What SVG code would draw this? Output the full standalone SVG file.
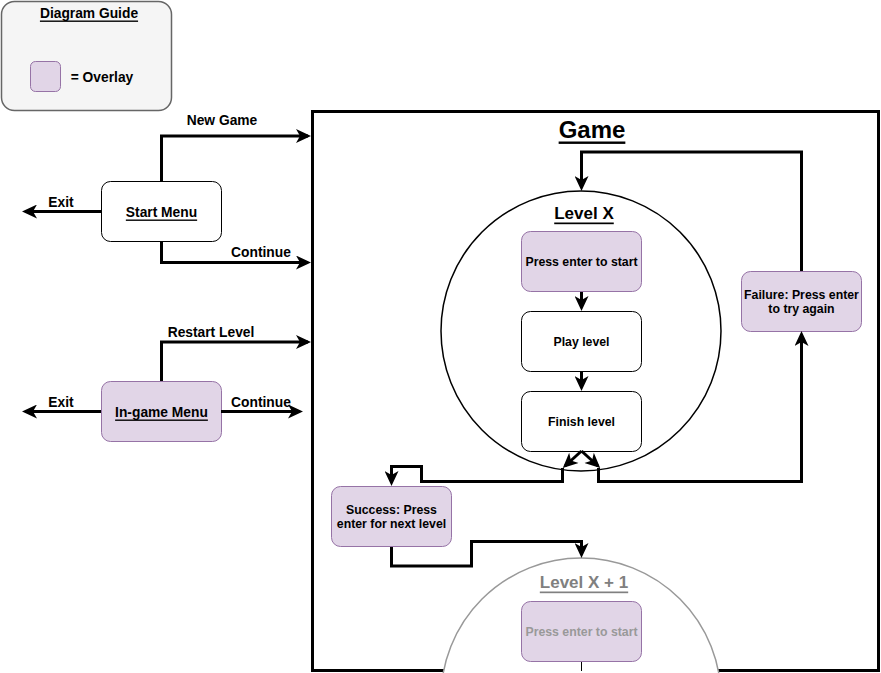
<svg xmlns="http://www.w3.org/2000/svg" width="881" height="673" viewBox="0 0 881 673">
<defs>
<style>
text{font-family:"Liberation Sans",Arial,Helvetica,sans-serif;font-weight:bold;fill:#000;text-anchor:middle;dominant-baseline:central}
.lbl{font-size:13.8px}
.box{font-size:12.3px}
.u{text-decoration:underline}
.plain{fill:#fff;stroke:#000;stroke-width:1}
.ovl{fill:#e1d5e7;stroke:#9673a6;stroke-width:1}
.conn{fill:none;stroke:#000;stroke-width:3;stroke-linejoin:miter}
</style>
<marker id="arr" markerUnits="userSpaceOnUse" markerWidth="16" markerHeight="14" viewBox="0 0 15 14" refX="12" refY="7" orient="auto">
<path d="M0,0 L15,7 L0,14 L4,7 Z" fill="#000"/>
</marker>
</defs>
<rect width="881" height="673" fill="#fff"/>

<g id="guide">
<rect x="1.5" y="1.5" width="170" height="109" rx="13" fill="#f5f5f5" stroke="#666" stroke-width="1.5"/>
<text class="lbl u" x="89" y="13">Diagram Guide</text>
<rect class="ovl" x="30.5" y="61.5" width="30" height="30" rx="5" stroke-width="1.5"/>
<text class="lbl" x="102" y="77">= Overlay</text>
</g>

<g id="game">
<rect x="312.5" y="111.5" width="566" height="559" fill="#fff" stroke="#000" stroke-width="3"/>
<text x="592" y="129" style="font-size:24px" class="u">Game</text>
</g>

<g id="levelX">
<circle cx="581" cy="331" r="140" fill="#fff" stroke="#000" stroke-width="1.5"/>
<text x="584" y="213" style="font-size:17px" class="u">Level X</text>
</g>

<g id="levelX1">
<circle cx="581" cy="698" r="140" fill="#fff" stroke="#999" stroke-width="1.5"/>
<text x="584" y="582" style="font-size:17px;fill:#808080" class="u">Level X + 1</text>
</g>

<g id="startMenu">
<rect class="plain" x="101.5" y="181.5" width="120" height="60" rx="9"/>
<text class="lbl u" x="161.5" y="212">Start Menu</text>
</g>

<g id="ingameMenu">
<rect class="ovl" x="101.5" y="381.5" width="120" height="60" rx="9"/>
<text class="lbl u" x="161.5" y="412">In-game Menu</text>
</g>

<g id="pressStart">
<rect class="ovl" x="521.5" y="231.5" width="120" height="60" rx="9"/>
<text class="box" x="581.5" y="262">Press enter to start</text>
</g>

<g id="playLevel">
<rect class="plain" x="521.5" y="311.5" width="120" height="60" rx="9"/>
<text class="box" x="581.5" y="342">Play level</text>
</g>

<g id="finishLevel">
<rect class="plain" x="521.5" y="391.5" width="120" height="60" rx="9"/>
<text class="box" x="581.5" y="422">Finish level</text>
</g>

<g id="failure">
<rect class="ovl" x="741.5" y="271.5" width="120" height="60" rx="9"/>
<text class="box" x="801.5" y="295">Failure: Press enter</text>
<text class="box" x="801.5" y="309">to try again</text>
</g>

<g id="success">
<rect class="ovl" x="331.5" y="486.5" width="120" height="60" rx="9"/>
<text class="box" x="391.5" y="510">Success: Press</text>
<text class="box" x="391.5" y="524">enter for next level</text>
</g>

<g id="pressStart2">
<rect class="ovl" x="521.5" y="601.5" width="120" height="60" rx="9"/>
<text class="box" x="581.5" y="632" style="fill:#999">Press enter to start</text>
</g>

<g id="connectors">
<path class="conn" d="M161.5,181 V136 H308" marker-end="url(#arr)"/>
<path class="conn" d="M161.5,242 V262.5 H308" marker-end="url(#arr)"/>
<path class="conn" d="M101,211.5 H25" marker-end="url(#arr)"/>
<path class="conn" d="M161.5,381 V342 H308" marker-end="url(#arr)"/>
<path class="conn" d="M221,411.5 H300" marker-end="url(#arr)"/>
<path class="conn" d="M101,411.5 H25" marker-end="url(#arr)"/>
<path class="conn" d="M581.5,292 V308" marker-end="url(#arr)"/>
<path class="conn" d="M581.5,372 V388" marker-end="url(#arr)"/>
<path class="conn" d="M801.5,271 V152 H581.5 V188" marker-end="url(#arr)"/>
<path class="conn" d="M581.5,451 L565,466" marker-end="url(#arr)"/>
<path class="conn" d="M581.5,451 L598,466" marker-end="url(#arr)"/>
<path class="conn" d="M562.5,468 V481.5 H421.5 V466.5 H391.5 V483" marker-end="url(#arr)"/>
<path class="conn" d="M598.5,468 V481.5 H801.5 V334" marker-end="url(#arr)"/>
<path class="conn" d="M391.5,547 V566 H471.5 V541.5 H581.5 V555" marker-end="url(#arr)"/>
<path d="M581.5,662 V671" stroke="#000" stroke-width="1"/>
</g>

<g id="labels">
<text class="lbl" x="222" y="120">New Game</text>
<text class="lbl" x="261" y="252">Continue</text>
<text class="lbl" x="61" y="202">Exit</text>
<text class="lbl" x="211" y="332">Restart Level</text>
<text class="lbl" x="261" y="402">Continue</text>
<text class="lbl" x="61" y="402">Exit</text>
</g>
</svg>
